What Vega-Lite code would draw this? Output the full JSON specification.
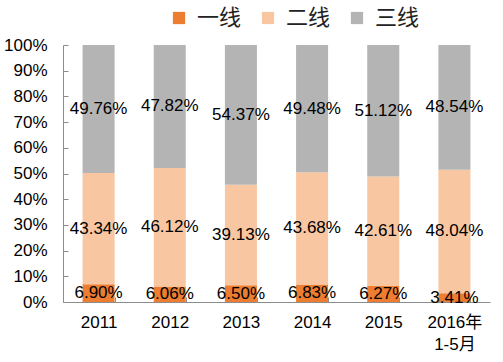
{
  "$schema": "https://vega.github.io/schema/vega-lite/v6.json",
  "width": 427,
  "height": 257,
  "autosize": "none",
  "padding": {"left": 63, "top": 45, "right": 13, "bottom": 60},
  "config": {
    "font": "Liberation Sans, Noto Sans CJK SC",
    "view": {"stroke": null},
    "axis": {"labelFont": "Liberation Sans, Noto Sans CJK SC", "labelColor": "#000", "domainColor": "#8c8c8c", "tickColor": "#8c8c8c", "grid": false, "title": null}
  },
  "data": {
    "values": [
      {"cat": "2011", "series": "一线", "k": 1, "p": 0.0690},
      {"cat": "2011", "series": "二线", "k": 2, "p": 0.4334},
      {"cat": "2011", "series": "三线", "k": 3, "p": 0.4976},
      {"cat": "2012", "series": "一线", "k": 1, "p": 0.0606},
      {"cat": "2012", "series": "二线", "k": 2, "p": 0.4612},
      {"cat": "2012", "series": "三线", "k": 3, "p": 0.4782},
      {"cat": "2013", "series": "一线", "k": 1, "p": 0.0650},
      {"cat": "2013", "series": "二线", "k": 2, "p": 0.3913},
      {"cat": "2013", "series": "三线", "k": 3, "p": 0.5437},
      {"cat": "2014", "series": "一线", "k": 1, "p": 0.0683},
      {"cat": "2014", "series": "二线", "k": 2, "p": 0.4368},
      {"cat": "2014", "series": "三线", "k": 3, "p": 0.4948},
      {"cat": "2015", "series": "一线", "k": 1, "p": 0.0627},
      {"cat": "2015", "series": "二线", "k": 2, "p": 0.4261},
      {"cat": "2015", "series": "三线", "k": 3, "p": 0.5112},
      {"cat": "2016年|1-5月", "series": "一线", "k": 1, "p": 0.0341},
      {"cat": "2016年|1-5月", "series": "二线", "k": 2, "p": 0.4804},
      {"cat": "2016年|1-5月", "series": "三线", "k": 3, "p": 0.4854}
    ]
  },
  "transform": [
    {"stack": "p", "groupby": ["cat"], "sort": [{"field": "k", "order": "ascending"}], "as": ["y0", "y1"], "offset": "normalize"}
  ],
  "encoding": {
    "x": {
      "field": "cat", "type": "nominal", "sort": null,
      "scale": {"paddingInner": 0.55, "paddingOuter": 0.275},
      "axis": {"labelAngle": 0, "labelFontSize": 17, "labelExpr": "split(datum.label, '|')", "labelLineHeight": 22, "tickBand": "extent", "tickSize": -5, "labelPadding": 17, "labelBaseline": "top"}
    }
  },
  "layer": [
    {
      "mark": {"type": "bar"},
      "encoding": {
        "y": {"field": "y0", "type": "quantitative", "scale": {"domain": [0, 1], "nice": false},
          "axis": {"values": [0, 0.1, 0.2, 0.3, 0.4, 0.5, 0.6, 0.7, 0.8, 0.9, 1], "format": ".0%", "labelFontSize": 17, "tickSize": -5, "labelPadding": 21, "labelOverlap": false, "labelFlush": false, "labelBound": false}},
        "y2": {"field": "y1"},
        "color": {
          "field": "series", "type": "nominal",
          "scale": {"domain": ["一线", "二线", "三线"], "range": ["#ED7D31", "#F8C6A0", "#B4B4B4"]},
          "legend": {"title": null, "orient": "none", "legendX": 105, "legendY": -38, "direction": "horizontal", "symbolType": "square", "symbolSize": 150, "symbolStrokeWidth": 0, "labelFontSize": 22, "labelOffset": 7, "columnPadding": 15, "labelColor": "#222", "labelFont": "Noto Sans CJK SC"}
        }
      }
    },
    {
      "transform": [{"fold": ["y0", "y1"], "as": ["edge", "pos"]}],
      "mark": {"type": "text", "fontSize": 17, "color": "#000"},
      "encoding": {
        "y": {"aggregate": "mean", "field": "pos", "type": "quantitative",
          "axis": {"values": [0, 0.1, 0.2, 0.3, 0.4, 0.5, 0.6, 0.7, 0.8, 0.9, 1], "format": ".0%", "labelFontSize": 17, "tickSize": -5, "labelPadding": 21, "labelOverlap": false, "labelFlush": false, "labelBound": false}},
        "detail": {"field": "series"},
        "text": {"field": "p", "type": "quantitative", "format": ".2%"}
      }
    }
  ]
}
